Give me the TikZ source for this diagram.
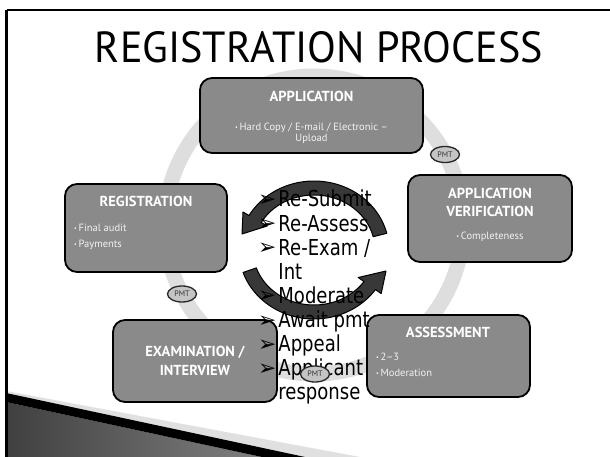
\documentclass[tikz,border=0pt]{standalone}
\usepackage{fontspec}
\setmainfont{PT Sans}
\newfontfamily\listfont{DejaVu Sans}
\usetikzlibrary{shapes.geometric}
\definecolor{boxgray}{HTML}{8A8A8A}
\definecolor{ringgray}{HTML}{DEDEDE}
\definecolor{subwhite}{HTML}{F2F2F2}
\definecolor{arrowdark}{HTML}{383838}
\definecolor{pmtgray}{HTML}{C4C4C4}
\newcommand{\sbul}{{\fontsize{6}{6}\selectfont\raisebox{1pt}{•}}\,}
\newcommand{\lbul}{\raisebox{0.5pt}{\scalebox{1.45}{\fontsize{15}{15}\selectfont ➢}}}
\begin{document}
\begin{tikzpicture}[x=1pt,y=-1pt,
  stagebox/.style={draw=black, line width=1.8pt, fill=boxgray, rounded corners=12pt},
  boxtitle/.style={text=white, font=\bfseries\fontsize{14.5}{18.5}\selectfont, align=center, inner sep=0pt},
  boxsub/.style={text=subwhite, font=\fontsize{10.5}{11}\selectfont, inner sep=0pt},
  pmt/.style={ellipse, draw=black!85, line width=1.3pt, fill=pmtgray, minimum width=29pt, minimum height=16pt, inner sep=0pt, font=\fontsize{8}{8}\selectfont, text=black!80},
  cyclearrow/.style={fill=arrowdark, draw=black, line width=1pt, line join=round}
]
\useasboundingbox (0,0) rectangle (610,457);
\fill[white] (0,0) rectangle (610,457);

% bottom-left decoration
\fill[black!12] (6,391) -- (360,457) -- (6,457) -- cycle;
\shade[left color=black!75, right color=black!50] (6,402) -- (262,457) -- (6,457) -- cycle;
\fill[black] (6,393) -- (305,457) -- (262,457) -- (6,402) -- cycle;

% slide frame
\draw[line width=2.4pt] (6.5,10) -- (610,10);
\draw[line width=2.4pt] (6.5,10) -- (6.5,457);

% title
\node[anchor=base, inner sep=0pt] (title) at (319,63) {\resizebox{448pt}{31pt}{REGISTRATION PROCESS}};

% background ring
\draw[ringgray, line width=15pt] (314,225) circle[radius=149pt];

% stage boxes
\draw[stagebox] (200,78) rectangle (423,153);
\node[boxtitle, anchor=base] (apptitle) at (311.5,101.5) {APPLICATION};
\node[boxsub, anchor=base, align=center] (appsub) at (311.5,142) {\sbul Hard Copy / E-mail / Electronic –\\Upload};

\draw[stagebox] (65,184) rectangle (227,272);
\node[boxtitle, anchor=base] (regtitle) at (146,207) {REGISTRATION};
\node[boxsub, anchor=base west, align=left] (regsub) at (74,247) {\sbul Final audit\\[4.5pt]\sbul Payments};

\draw[stagebox] (408,175) rectangle (572,262);
\node[boxtitle, anchor=base] (vertitle) at (490,216.7) {APPLICATION\\VERIFICATION};
\node[boxsub, anchor=base] (versub) at (490,239) {\sbul Completeness};

\draw[stagebox] (367,315) rectangle (530,397);
\node[boxtitle, anchor=base] (asstitle) at (448,337) {ASSESSMENT};
\node[boxsub, anchor=base west, align=left] (asssub) at (376,376) {\sbul 2–3\\[4.5pt]\sbul Moderation};

\draw[stagebox] (113,320) rectangle (277,402);
\node[boxtitle, anchor=base] (examtitle) at (195,375) {EXAMINATION /\\INTERVIEW};

% central circular arrows
\draw[cyclearrow]
  plot[domain=346:210, samples=50, variable=\t] ({314+75*cos(\t)},{250+69*sin(\t)})
  -- (243,212) -- (242,234) -- (267.2,226)
  -- plot[domain=210:346, samples=50, variable=\t] ({314+61*cos(\t)},{250+55*sin(\t)})
  -- cycle;
\draw[cyclearrow]
  plot[domain=161:35, samples=50, variable=\t] ({314+75*cos(\t)},{250+69*sin(\t)})
  -- (381.2,293.6) -- (386,271) -- (358.2,277.5)
  -- plot[domain=35:161, samples=50, variable=\t] ({314+61*cos(\t)},{250+55*sin(\t)})
  -- cycle;

% central list
\node[anchor=base west, inner sep=0pt] (list) at (258,207) {\listfont\fontsize{22}{24.1}\selectfont
  \begin{tabular}[t]{@{}l@{\hspace{2pt}}l@{}}
  \lbul & \scalebox{0.82}[1]{Re-Submit}\\
  \lbul & \scalebox{0.82}[1]{Re-Assess}\\
  \lbul & \scalebox{0.82}[1]{Re-Exam /}\\
   & \scalebox{0.82}[1]{Int}\\
  \lbul & \scalebox{0.82}[1]{Moderate}\\
  \lbul & \scalebox{0.82}[1]{Await pmt}\\
  \lbul & \scalebox{0.82}[1]{Appeal}\\
  \lbul & \scalebox{0.82}[1]{Applicant}\\
   & \scalebox{0.82}[1]{response}
  \end{tabular}};

% PMT markers
\node[pmt] (pmt1) at (445,154.5) {PMT};
\node[pmt] (pmt2) at (182,294) {PMT};
\node[pmt] (pmt3) at (315,374) {PMT};
\end{tikzpicture}
\end{document}
